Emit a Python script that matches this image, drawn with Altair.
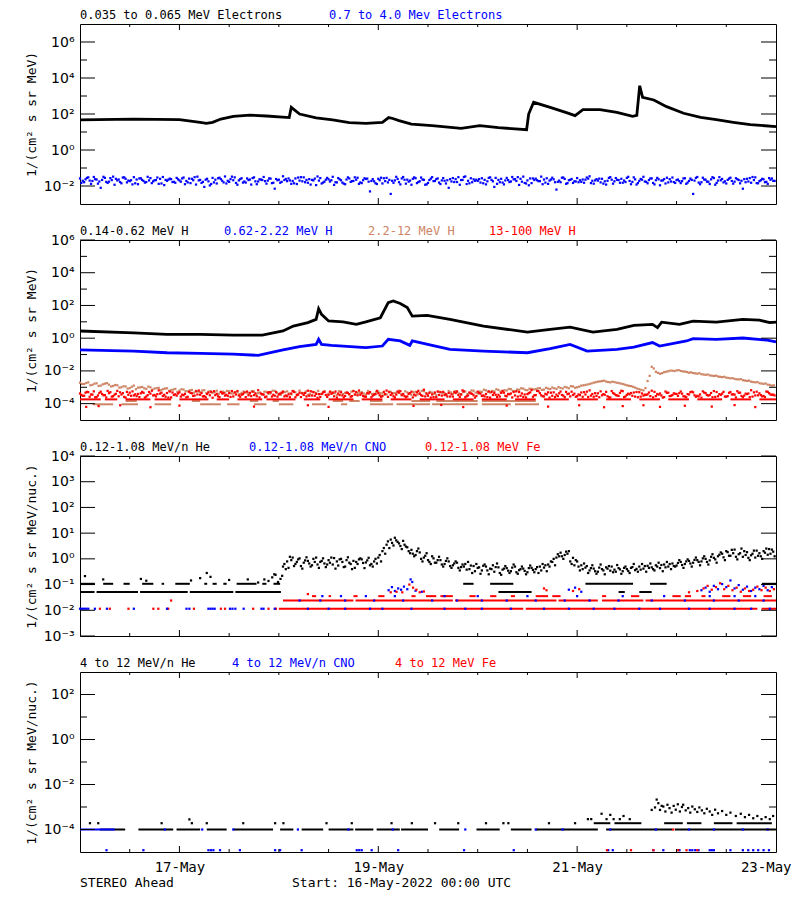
import altair as alt
import pandas as pd

# ======================= DATA (log10 of intensity) =======================
START = pd.Timestamp("2022-05-16 00:00:00")

# ---- Panel 1: electrons ----
E_LO_HOURS = [0, 13, 24, 29, 30.5, 32, 34, 37, 41, 45,
              50.5, 51, 53, 57, 61, 65, 69, 73, 74.5, 75.5,
              77, 80, 85, 92, 96.5, 101, 107.8, 108.3, 109.5, 113.5,
              117.6, 119.5, 121.4, 125.5, 129.6, 133.4, 134.4, 135.1, 135.8, 138.5,
              141.6, 145.7, 149.8, 153.6, 157.7, 161.8, 168]
E_LO_LOG = [1.67, 1.72, 1.69, 1.54, 1.48, 1.54, 1.72, 1.87, 1.94, 1.89,
            1.80, 2.37, 2.00, 1.78, 1.67, 1.52, 1.48, 1.54, 1.80, 1.75,
            1.63, 1.44, 1.35, 1.20, 1.35, 1.24, 1.13, 2.00, 2.65, 2.37,
            2.06, 1.91, 2.24, 2.24, 2.09, 1.87, 1.92, 3.57, 2.93, 2.78,
            2.41, 2.04, 1.81, 1.69, 1.54, 1.41, 1.30]
# hourly samples (A at :00, B at :20, C at :40)
E_HI_LOG_A = [
    -1.58, -1.79, -1.52, -1.72, -1.64, -2.10, -1.55, -1.76, -1.48, -1.69, -1.85, -1.60, -1.73, -1.51, -1.90, -1.66, -1.78, -1.56, -1.68, -1.88, -1.50, -1.71, -1.62, -1.82,
    -1.69, -1.53, -1.80, -1.60, -1.92, -1.66, -2.05, -1.74, -1.55, -1.86, -1.62, -1.47, -1.77, -1.68, -1.93, -1.57, -1.81, -1.64, -1.52, -1.75, -1.67, -1.87, -1.59, -2.15,
    -1.65, -1.46, -1.73, -1.88, -1.58, -1.70, -1.52, -1.82, -1.66, -1.95, -1.56, -1.76, -1.63, -1.49, -1.80, -1.68, -1.90, -1.58, -1.72, -1.54, -1.84, -1.61, -2.30, -1.74,
    -1.60, -1.86, -1.55, -2.44, -1.69, -1.79, -1.50, -1.65, -1.93, -1.57, -1.74, -1.66, -1.83, -1.51, -1.62, -1.89, -1.71, -2.10, -1.56, -1.78, -1.67, -1.47, -1.85, -1.63,
    -1.72, -1.57, -1.91, -1.52, -2.05, -1.66, -1.81, -1.55, -1.75, -1.62, -1.94, -1.48, -1.69, -1.84, -1.59, -1.73, -1.64, -1.88, -1.54, -2.20, -1.79, -1.61, -1.68, -1.83,
    -1.56, -1.77, -1.65, -1.46, -1.87, -1.70, -1.60, -1.92, -1.51, -1.74, -1.67, -1.82, -1.55, -1.90, -1.63, -1.72, -1.49, -1.85, -1.58, -1.68, -1.96, -1.62, -1.80, -1.53,
    -1.67, -1.84, -1.57, -1.72, -2.44, -1.50, -1.79, -1.65, -1.89, -1.56, -1.70, -1.61, -1.86, -1.54, -1.76, -1.67, -2.15, -1.60, -1.82, -1.52, -1.73, -1.63, -1.88, -1.58]
E_HI_LOG_B = [
    -1.83, -1.63, -1.70, -1.50, -1.87, -1.66, -1.77, -1.56, -1.93, -1.64, -1.53, -1.80, -1.68, -1.85, -1.58, -1.72, -1.49, -1.84, -1.67, -1.60, -1.95, -1.65, -1.78, -1.55,
    -1.76, -1.90, -1.59, -1.68, -1.48, -1.83, -1.65, -1.97, -1.80, -1.57, -1.71, -1.86, -1.62, -1.52, -1.69, -1.81, -1.58, -1.92, -1.74, -1.63, -1.50, -1.70, -1.84, -1.61,
    -1.82, -1.67, -1.58, -1.72, -1.89, -1.51, -1.79, -1.62, -1.69, -1.47, -1.86, -1.65, -1.75, -1.94, -1.56, -1.81, -1.64, -1.77, -1.52, -1.88, -1.68, -1.59, -1.72, -1.85,
    -1.68, -1.57, -1.80, -1.71, -1.49, -1.91, -1.65, -1.76, -1.60, -1.84, -1.53, -1.93, -1.67, -1.73, -1.58, -1.69, -1.86, -1.62, -1.78, -1.51, -1.66, -1.89, -1.57, -1.71,
    -1.62, -1.85, -1.74, -1.66, -1.55, -1.79, -1.91, -1.67, -1.50, -1.72, -1.60, -1.83, -1.96, -1.58, -1.68, -1.48, -1.81, -1.70, -1.63, -1.77, -1.54, -1.88, -1.66, -1.74,
    -1.79, -1.64, -1.53, -1.84, -1.69, -1.59, -1.87, -1.71, -1.65, -1.56, -1.82, -1.70, -1.49, -1.77, -1.92, -1.61, -1.75, -1.67, -1.83, -1.55, -1.70, -1.86, -1.62, -1.78,
    -1.64, -1.73, -1.88, -1.59, -1.70, -1.81, -1.54, -1.76, -1.63, -1.93, -1.51, -1.80, -1.66, -1.72, -1.57, -1.85, -1.62, -1.75, -1.50, -1.84, -1.68, -1.79, -1.56, -1.71]
E_HI_LOG_C = [
    -1.71, -1.55, -1.88, -1.62, -1.75, -1.49, -1.83, -1.67, -1.60, -1.78, -1.52, -1.70, -1.91, -1.64, -1.57, -1.81, -1.69, -1.74, -1.53, -1.86, -1.66, -1.59, -1.77, -1.63,
    -1.58, -1.72, -1.84, -1.51, -1.69, -1.77, -1.60, -1.89, -1.65, -1.54, -1.80, -1.71, -1.48, -1.83, -1.62, -1.75, -1.67, -1.56, -1.90, -1.64, -1.73, -1.58, -1.82, -1.68,
    -1.77, -1.61, -1.69, -1.85, -1.53, -1.74, -1.66, -1.92, -1.59, -1.70, -1.81, -1.55, -1.68, -1.79, -1.63, -1.87, -1.52, -1.73, -1.65, -1.80, -1.57, -1.76, -1.62, -1.89,
    -1.54, -1.73, -1.66, -1.82, -1.61, -1.58, -1.87, -1.70, -1.52, -1.78, -1.64, -1.91, -1.59, -1.72, -1.81, -1.56, -1.68, -1.75, -1.62, -1.93, -1.50, -1.71, -1.79, -1.65,
    -1.81, -1.66, -1.55, -1.74, -1.88, -1.60, -1.69, -1.78, -1.63, -1.51, -1.76, -1.86, -1.58, -1.67, -1.73, -1.90, -1.57, -1.64, -1.79, -1.70, -1.53, -1.84, -1.61, -1.75,
    -1.68, -1.82, -1.59, -1.71, -1.62, -1.80, -1.74, -1.55, -1.87, -1.66, -1.60, -1.78, -1.72, -1.52, -1.84, -1.65, -1.77, -1.58, -1.91, -1.63, -1.69, -1.54, -1.75, -1.83,
    -1.73, -1.58, -1.81, -1.66, -1.55, -1.90, -1.64, -1.76, -1.51, -1.83, -1.68, -1.74, -1.59, -1.87, -1.62, -1.71, -1.79, -1.56, -1.67, -1.85, -1.60, -1.77, -1.65, -1.72]

# ---- Panel 2: protons ----
H1_HOURS = [0, 13, 21, 29, 37, 44, 49, 51.5, 55, 57,
            57.6, 58.3, 60, 63.5, 66.7, 69, 72.5, 74.4, 75.6, 77.3,
            79, 80.2, 83.8, 89.3, 97.4, 108, 113.5, 118.3, 123.8, 129.6,
            133.7, 138.2, 139.4, 140.4, 144.7, 148, 153.6, 160, 164, 166.5, 168]
H1_LOG = [0.44, 0.33, 0.23, 0.23, 0.19, 0.19, 0.44, 0.74, 0.95, 1.15,
          1.80, 1.46, 1.05, 1.00, 0.85, 1.00, 1.25, 2.17, 2.27, 2.12,
          1.87, 1.35, 1.39, 1.15, 0.74, 0.37, 0.54, 0.68, 0.37, 0.54,
          0.78, 0.84, 0.64, 0.98, 0.84, 1.04, 0.98, 1.15, 1.10, 0.95, 0.98]
H2_HOURS = [0, 13, 21, 29, 37, 43, 49, 53, 57, 57.6,
            58.3, 60.7, 69, 73, 74.4, 77.3, 79.6, 80.2, 85, 89.3,
            97.4, 108, 113.5, 118.3, 122.4, 129.6, 133.7, 138.2, 139.9, 146.4,
            148, 153.6, 160, 165.6, 168]
H2_LOG = [-0.72, -0.79, -0.89, -0.93, -0.97, -1.05, -0.72, -0.52, -0.38, -0.07,
          -0.38, -0.44, -0.58, -0.48, -0.07, -0.17, -0.44, -0.17, -0.44, -0.68,
          -0.79, -0.89, -0.64, -0.38, -0.79, -0.68, -0.54, -0.27, -0.48, -0.17,
          -0.03, -0.07, 0.01, -0.11, -0.23]
H3_LOG_A = [
    -2.72, -2.80, -2.70, -2.85, -2.76, -2.90, -2.78, -2.84,
    -2.92, -2.88, -3.00, -2.95, -3.05, -2.90, -3.02, -2.98, -3.10, -3.00, -3.08, -3.04,
    -3.12, -3.06, -3.18, -3.10, -3.20, -3.14, -3.25, -3.16, -3.22, -3.30, -3.18, -3.26, -3.35, -3.21, -3.28, -3.32, -3.24, -3.38, -3.29, -3.34,
    -3.30, -3.42, -3.26, -3.36, -3.45, -3.28, -3.38, -3.22, -3.40, -3.33,
    -3.25, -3.44, -3.31, -3.20, -3.37, -3.46, -3.27, -3.35, -3.41, -3.24,
    -3.39, -3.30, -3.47, -3.26, -3.34, -3.43, -3.22, -3.36, -3.29, -3.45,
    -3.32, -3.40, -3.25, -3.38, -3.44, -3.28, -3.35, -3.21, -3.42, -3.31,
    -3.46, -3.27, -3.37, -3.24, -3.41, -3.33, -3.48, -3.29, -3.36, -3.23,
    -3.40, -3.30, -3.45, -3.26, -3.34, -3.21, -3.38, -3.28, -3.19, -3.32,
    -3.25, -3.16, -3.30, -3.20, -3.12, -3.24, -3.15, -3.08, -3.18, -3.10,
    -3.12, -3.05, -3.14, -3.08, -3.02, -3.10, -3.04, -2.98, -3.06, -2.95, -3.00, -2.90,
    -2.86, -2.80, -2.72, -2.66, -2.62, -2.65, -2.70, -2.68, -2.74, -2.80, -2.88, -2.93, -3.02, -3.12,
    -3.19, -2.62, -1.75,
    -2.05, -2.17, -2.08, -2.02, -1.99, -1.97, -2.00, -2.04, -2.11, -2.13, -2.17, -2.20, -2.24, -2.27, -2.31,
    -2.34, -2.38, -2.41, -2.45, -2.49, -2.52, -2.57, -2.61, -2.66, -2.70, -2.75, -2.79, -2.84, -2.90]
H3_LOG_B = [
    -2.80, -2.74, -2.88, -2.78, -2.92, -2.82, -2.75, -2.95,
    -2.86, -3.02, -2.94, -3.08, -2.97, -3.12, -3.01, -3.06, -2.96, -3.14, -3.05, -3.18,
    -3.08, -3.22, -3.14, -3.28, -3.12, -3.24, -3.19, -3.33, -3.26, -3.20, -3.36, -3.23, -3.30, -3.40, -3.27, -3.22, -3.37, -3.31, -3.42, -3.26,
    -3.36, -3.24, -3.44, -3.32, -3.27, -3.40, -3.21, -3.35, -3.46, -3.29,
    -3.38, -3.23, -3.43, -3.34, -3.26, -3.41, -3.30, -3.22, -3.39, -3.47,
    -3.28, -3.36, -3.24, -3.42, -3.31, -3.27, -3.45, -3.33, -3.38, -3.23,
    -3.41, -3.29, -3.35, -3.46, -3.26, -3.39, -3.32, -3.43, -3.25, -3.37,
    -3.30, -3.44, -3.22, -3.36, -3.28, -3.40, -3.27, -3.34, -3.45, -3.31,
    -3.24, -3.38, -3.29, -3.42, -3.20, -3.33, -3.26, -3.15, -3.28, -3.22,
    -3.12, -3.26, -3.18, -3.10, -3.22, -3.14, -3.06, -3.16, -3.09, -3.13,
    -3.07, -3.16, -3.03, -3.11, -3.06, -2.99, -3.08, -3.01, -2.93, -3.03, -2.96, -2.88,
    -2.83, -2.76, -2.69, -2.64, -2.60, -2.68, -2.66, -2.72, -2.77, -2.84, -2.91, -2.97, -3.08, -3.16,
    -3.05, -2.30, -1.85,
    -2.12, -2.14, -2.05, -1.98, -2.01, -1.95, -2.03, -2.07, -2.09, -2.15, -2.14, -2.22, -2.22, -2.29, -2.29,
    -2.36, -2.36, -2.43, -2.44, -2.51, -2.50, -2.59, -2.59, -2.68, -2.68, -2.77, -2.77, -2.86, -2.88]
H3_LEVEL = -4.04
H3_LEVEL_RUNS = [[3, 8], [10, 14], [18, 22], [29, 34], [35.5, 38.5], [42, 45], [48, 51.5], [56, 59.5],
                 [63, 64.5], [70, 75.6], [76.4, 84.5], [85, 96], [97, 104], [105, 110.8]]
H3_LEVEL2 = -3.84
H3_LEVEL2_RUNS = [[11, 13.7], [27, 29], [41, 43], [46.5, 48], [61, 63.5], [65, 67.5], [70, 73], [80, 84.5], [86, 96], [97, 110]]
H4_LOG_A = [
    -3.38, -3.52, -3.30, -3.45, -3.60, -3.27, -3.48, -3.36, -3.55, -3.22, -3.44, -3.63, -3.33, -3.50, -3.41, -3.28, -3.57, -3.39, -3.47, -3.19, -3.53, -3.35, -3.62, -3.43,
    -3.31, -3.49, -3.58, -3.37, -3.25, -3.46, -3.54, -3.32, -3.64, -3.40, -3.29, -3.51, -3.36, -3.56, -3.23, -3.45, -3.60, -3.34, -3.48, -3.18, -3.42, -3.57, -3.30, -3.52,
    -3.44, -3.26, -3.55, -3.38, -3.61, -3.33, -3.47, -3.21, -3.50, -3.40, -3.59, -3.28, -3.46, -3.35, -3.63, -3.31, -3.53, -3.42, -3.24, -3.49, -3.37, -3.58, -3.29, -3.45,
    -3.36, -3.54, -3.20, -3.47, -3.62, -3.33, -3.41, -3.56, -3.27, -3.50, -3.39, -3.15, -3.52, -3.44, -3.60, -3.30, -3.48, -3.35, -3.57, -3.25, -3.43, -3.61, -3.32, -3.49,
    -3.27, -3.53, -3.41, -3.63, -3.34, -3.46, -3.22, -3.55, -3.38, -3.50, -3.29, -3.59, -3.42, -3.17, -3.48, -3.36, -3.56, -3.31, -3.52, -3.45, -3.26, -3.60, -3.39, -3.47,
    -3.55, -3.32, -3.44, -3.19, -3.58, -3.37, -3.49, -3.28, -3.62, -3.40, -3.53, -3.24, -3.46, -3.35, -3.57, -3.30, -3.51, -3.43, -3.21, -3.54, -3.38, -3.60, -3.33, -3.48,
    -3.41, -3.26, -3.56, -3.44, -3.31, -3.52, -3.63, -3.36, -3.47, -3.23, -3.55, -3.39, -3.58, -3.29, -3.45, -3.34, -3.61, -3.42, -3.18, -3.50, -3.37, -3.53, -3.28, -3.46]
H4_LOG_B = [
    -3.47, -3.33, -3.58, -3.25, -3.50, -3.41, -3.62, -3.30, -3.45, -3.55, -3.36, -3.28, -3.52, -3.43, -3.60, -3.34, -3.48, -3.21, -3.56, -3.39, -3.46, -3.63, -3.32, -3.51,
    -3.57, -3.40, -3.27, -3.53, -3.44, -3.35, -3.61, -3.49, -3.24, -3.55, -3.38, -3.46, -3.59, -3.31, -3.50, -3.42, -3.26, -3.54, -3.37, -3.62, -3.45, -3.33, -3.57, -3.29,
    -3.39, -3.56, -3.43, -3.23, -3.48, -3.60, -3.35, -3.52, -3.30, -3.64, -3.41, -3.47, -3.27, -3.55, -3.38, -3.50, -3.33, -3.58, -3.44, -3.20, -3.53, -3.36, -3.61, -3.42,
    -3.49, -3.28, -3.59, -3.37, -3.45, -3.24, -3.54, -3.40, -3.62, -3.31, -3.48, -3.56, -3.34, -3.60, -3.26, -3.51, -3.43, -3.57, -3.30, -3.47, -3.19, -3.55, -3.38, -3.63,
    -3.35, -3.50, -3.60, -3.29, -3.46, -3.57, -3.33, -3.41, -3.62, -3.25, -3.52, -3.44, -3.36, -3.58, -3.22, -3.49, -3.40, -3.63, -3.31, -3.54, -3.47, -3.28, -3.56, -3.39,
    -3.44, -3.58, -3.27, -3.51, -3.36, -3.61, -3.42, -3.55, -3.23, -3.48, -3.34, -3.60, -3.39, -3.52, -3.29, -3.57, -3.45, -3.32, -3.62, -3.41, -3.50, -3.26, -3.54, -3.37,
    -3.53, -3.39, -3.61, -3.30, -3.49, -3.56, -3.25, -3.47, -3.35, -3.59, -3.42, -3.28, -3.54, -3.44, -3.62, -3.33, -3.51, -3.38, -3.57, -3.27, -3.48, -3.60, -3.36, -3.45]
H4_LOG_C = [
    -3.52, -3.28, -3.44, -3.61, -3.35, -3.49, -3.22, -3.57, -3.40, -3.31, -3.59, -3.46, -3.25, -3.54, -3.37, -3.63, -3.29, -3.50, -3.42, -3.33, -3.58, -3.26, -3.47, -3.38,
    -3.45, -3.62, -3.34, -3.51, -3.20, -3.56, -3.41, -3.29, -3.48, -3.60, -3.36, -3.53, -3.23, -3.44, -3.58, -3.32, -3.49, -3.27, -3.55, -3.39, -3.61, -3.30, -3.46, -3.57,
    -3.33, -3.50, -3.61, -3.28, -3.45, -3.37, -3.56, -3.24, -3.52, -3.42, -3.31, -3.59, -3.40, -3.26, -3.48, -3.62, -3.35, -3.54, -3.29, -3.46, -3.57, -3.38, -3.51, -3.22,
    -3.58, -3.41, -3.30, -3.55, -3.26, -3.49, -3.61, -3.36, -3.45, -3.22, -3.53, -3.39, -3.63, -3.32, -3.47, -3.28, -3.56, -3.43, -3.35, -3.59, -3.25, -3.50, -3.40, -3.54,
    -3.39, -3.56, -3.25, -3.47, -3.60, -3.34, -3.52, -3.43, -3.29, -3.57, -3.38, -3.62, -3.31, -3.49, -3.24, -3.55, -3.44, -3.33, -3.60, -3.37, -3.51, -3.42, -3.27, -3.58,
    -3.48, -3.30, -3.59, -3.41, -3.53, -3.25, -3.46, -3.62, -3.35, -3.50, -3.21, -3.56, -3.43, -3.32, -3.61, -3.38, -3.47, -3.54, -3.28, -3.45, -3.63, -3.34, -3.52, -3.40,
    -3.36, -3.55, -3.42, -3.27, -3.58, -3.44, -3.32, -3.51, -3.61, -3.29, -3.47, -3.57, -3.34, -3.43, -3.24, -3.53, -3.39, -3.60, -3.31, -3.49, -3.56, -3.26, -3.44, -3.50]
H4_LEVEL = -3.74
H4_LEVEL_RUNS = [[0, 5], [6, 9], [11, 17], [18, 22], [24, 31], [33, 36], [38, 44], [45, 52], [54, 58], [60, 66],
                 [68, 73], [75, 80], [82, 88], [90, 95], [97, 103], [105, 110], [112, 118], [120, 125], [127, 133],
                 [135, 140], [142, 147], [149, 155], [157, 162], [164, 168]]
H4_LOW_HOURS = [1.5, 4.5, 9.7, 17, 24, 42, 55, 60, 80.5, 87.2, 92.5, 103, 113, 120.5, 126.5, 131, 136, 140, 146, 152.5, 158, 163]
H4_LOW_LOG = [-4.20, -4.15, -4.10, -4.22, -4.12, -4.18, -4.10, -4.20, -4.14, -4.08, -4.21,
              -4.12, -4.18, -4.10, -4.22, -4.15, -4.10, -4.20, -4.13, -4.18, -4.09, -4.21]

# ---- Panel 3: 0.12-1.08 MeV/n heavy ions ----
HE_LEVEL05, HE_LEVEL10 = -1.29, -0.97
HE_LEVEL05_RUNS = [[0, 3.5], [4, 14], [14.5, 26], [26.5, 37], [37.5, 48.5], [101, 109], [130, 131.5], [135, 138]]
HE_LEVEL10_RUNS = [[0, 3.6], [5.6, 8], [10.5, 12], [15, 17.7], [19.7, 20.3], [23, 26.5], [30, 30.7], [32, 33],
                   [34.6, 35.4], [37.8, 42.6], [44, 45], [46.7, 48.3], [92.5, 95], [99, 104.6], [122, 133.5],
                   [137.6, 141.6], [164.6, 168]]
HE_EARLY_HOURS = [1.2, 5.6, 14.7, 16, 26.8, 29, 30.6, 31.5, 36, 40.5, 43, 44.5, 45.5, 46.4, 46.9, 47.2, 47.8, 48.4, 48.8]
HE_EARLY_LOG = [-0.67, -0.80, -0.78, -0.85, -0.84, -0.75, -0.55, -0.70, -0.82, -0.80, -0.92, -0.80, -0.86, -0.72,
                -0.60, -0.62, -0.90, -0.78, -0.66]
HE_CLOUD_START = 49
HE_LOG_A = [
    -0.30, -0.10, -0.05, -0.20, 0.02, -0.15, -0.08, -0.25, 0.05, -0.12, -0.18,
    -0.05, -0.22, -0.10, 0.00, -0.30, -0.15, -0.08, -0.20, -0.02, -0.14, -0.25, -0.10,
    0.05, 0.30, 0.55, 0.75, 0.82, 0.60, 0.70, 0.45,
    0.35, 0.15, 0.25, 0.05, -0.05, 0.10, -0.15, -0.05, -0.20, -0.10,
    -0.25, -0.15, -0.32, -0.20, -0.40, -0.28, -0.35, -0.45, -0.30, -0.38, -0.50, -0.33, -0.42, -0.36, -0.48, -0.30, -0.44, -0.38, -0.52, -0.35,
    -0.40, -0.30, -0.34, -0.22, -0.12, 0.05, 0.24, 0.15, 0.30, 0.04,
    -0.10, -0.25, -0.34, -0.45, -0.38, -0.50, -0.40, -0.33, -0.46, -0.42, -0.36, -0.48, -0.40, -0.35, -0.44,
    -0.30, -0.38, -0.27, -0.33, -0.25, -0.36, -0.22, -0.30, -0.18, -0.26, -0.12, -0.20, -0.08, -0.15, -0.05,
    -0.10, 0.00, -0.06, 0.04, 0.10, 0.20, 0.30, 0.12, 0.36, 0.18, 0.08, 0.26, 0.14, 0.05, 0.22, 0.30, 0.16, 0.36]
HE_LOG_B = [
    -0.20, -0.35, 0.05, -0.12, -0.28, -0.06, -0.18, 0.00, -0.22, -0.08, -0.32,
    -0.15, 0.03, -0.26, -0.12, -0.05, -0.20, -0.35, -0.02, -0.16, -0.06, -0.20, 0.00,
    0.15, 0.42, 0.68, 0.62, 0.72, 0.50, 0.55, 0.30,
    0.20, 0.30, 0.00, 0.12, -0.12, 0.02, -0.05, -0.22, -0.08, -0.28,
    -0.18, -0.35, -0.22, -0.42, -0.26, -0.48, -0.33, -0.27, -0.45, -0.40, -0.32, -0.55, -0.38, -0.46, -0.34, -0.52, -0.40, -0.47, -0.36, -0.43,
    -0.32, -0.45, -0.25, -0.30, 0.00, 0.18, 0.10, 0.28, -0.10, -0.25,
    -0.30, -0.40, -0.28, -0.36, -0.48, -0.34, -0.45, -0.38, -0.30, -0.50, -0.41, -0.35, -0.47, -0.32, -0.39,
    -0.42, -0.28, -0.35, -0.40, -0.30, -0.24, -0.33, -0.20, -0.28, -0.16, -0.24, -0.10, -0.18, -0.04, -0.12,
    0.02, -0.12, 0.08, -0.02, 0.16, 0.06, 0.26, 0.35, 0.08, 0.22, 0.30, 0.04, 0.20, 0.32, 0.10, 0.24, 0.38, 0.28]
HE_LOG_C = [
    -0.40, 0.08, -0.28, -0.02, -0.38, 0.06, -0.30, -0.12, -0.35, 0.02, -0.22,
    0.05, -0.38, -0.02, -0.32, 0.06, -0.40, -0.12, 0.02, -0.36, 0.04, -0.30, -0.18,
    -0.10, 0.20, 0.42, 0.52, 0.66, 0.38, 0.48, 0.22,
    0.10, 0.40, -0.10, 0.22, -0.20, -0.15, 0.08, -0.30, 0.02, -0.35,
    -0.10, -0.45, -0.30, -0.12, -0.55, -0.20, -0.58, -0.22, -0.60, -0.25, -0.18, -0.62, -0.28, -0.55, -0.22, -0.58, -0.30, -0.60, -0.26, -0.52,
    -0.55, -0.20, -0.48, -0.10, -0.25, 0.10, 0.00, 0.20, -0.20, -0.05,
    -0.45, -0.18, -0.55, -0.25, -0.58, -0.22, -0.60, -0.28, -0.52, -0.24, -0.58, -0.30, -0.55, -0.20, -0.50,
    -0.20, -0.50, -0.18, -0.45, -0.15, -0.48, -0.12, -0.40, -0.30, -0.05, -0.35, -0.02, -0.30, 0.05, -0.25,
    0.10, -0.22, 0.18, -0.15, 0.25, -0.05, 0.12, 0.22, -0.02, 0.40, 0.15, -0.05, 0.32, 0.12, 0.00, 0.40, 0.20, 0.10]
ION_L1, ION_L2, ION_L3 = -1.94, -1.62, -1.45
FE_L1_RUNS = [[48, 107], [107.6, 163.5], [164.5, 168]]
FE_L2_RUNS = [[49, 66], [66.5, 90], [90.5, 115], [115.5, 125], [126, 136], [136.5, 168]]
FE_L3_RUNS = [[56, 57], [60, 60.6], [66, 67], [72, 73.5], [80, 81], [83.5, 86], [87, 90], [94, 95.5], [99, 100.5],
              [104, 105], [110, 113], [114, 116], [126, 127], [133, 135], [143, 145], [146, 147.5], [150, 151],
              [155, 157], [160, 162], [165, 167]]
FE_L1_EARLY_HOURS = [4.8, 7.2, 11.7, 17.7, 18.9, 21.3, 27.5, 34, 35, 41.8, 45.5, 47.3]
FE_EXTRA = [(22, -1.62), (55, -1.37)]
CNO_L1_HOURS = [0, 0.5, 1, 1.5, 2, 3.6, 6.5, 13, 21, 25.7, 26.4, 31, 31.5, 32, 32.5, 36.2, 36.8, 37.5, 39.5,
                43.8, 44.3, 47, 55, 60, 64, 70, 73, 80, 88, 93, 97, 104, 112, 118, 124, 129, 135, 140, 147,
                152, 158, 162, 166.5]
CNO_L2_HOURS = [53, 58, 64, 71, 78, 85, 91, 97, 103, 110, 117, 123, 130, 138, 146, 153, 159, 165]
CNO_L3_HOURS = [58.5, 63, 69, 76, 88, 96, 108, 120, 131, 141, 152, 158, 163]
FE_BURST = [(75, -1.30), (76.4, -1.28), (77.8, -1.30), (79.5, -1.00), (80.4, -1.12), (81.2, -1.20), (82, -1.30),
            (83, -1.27), (112, -1.15), (112.6, -1.22), (119, -1.25), (120.5, -1.18),
            (147, -1.30), (149, -1.25), (150.5, -1.15), (151.5, -1.05), (152.5, -1.20), (153.5, -1.10),
            (154.5, -0.95), (155.5, -1.18), (156.5, -1.05), (157.5, -1.22), (158.5, -1.12), (159.5, -1.28),
            (160.5, -1.15), (161.5, -1.25), (162.5, -1.20), (163.5, -1.08), (164.5, -1.22), (165.5, -1.12),
            (166.5, -1.25), (167.5, -1.18)]
CNO_BURST = [(74.5, -1.22), (75.3, -1.10), (76, -1.25), (76.8, -1.15), (77.5, -1.20), (78.2, -1.08), (79, -1.18),
             (79.8, -0.80), (80.2, -0.90), (81, -1.24), (82.5, -1.28), (118, -1.20), (119.5, -1.12), (121, -1.28),
             (150, -1.22), (151, -1.12), (152, -1.28), (153, -1.05), (154, -1.18), (155, -0.98), (156, -1.10),
             (157, -0.84), (158, -1.15), (159, -1.02), (160, -1.20), (161, -1.08), (162, -1.25), (163, -1.12),
             (164, -1.18), (165, -1.05), (166, -1.22), (167, -1.10)]

# ---- Panel 4: 4-12 MeV/n heavy ions ----
P4_L1, P4_L2, P4_LOW = -4.0, -3.72, -4.92
HE4_L1_RUNS = [[4.8, 10.9], [14.1, 22.5], [23.3, 29], [30.6, 35.4], [37, 46.6], [48.3, 51.5], [53.5, 58.7], [60, 66],
               [66.4, 70.8], [71.6, 77.2], [77.5, 84], [86.7, 91.5], [95.7, 101.3], [104, 109], [110, 125],
               [127, 143], [143.6, 168]]
HE4_L2_RUNS = [[124, 128], [129, 135.5], [141, 145.5], [146.5, 150], [153, 157.5], [158.5, 167]]
HE4_L2_HOURS = [2.4, 4.4, 19.7, 27, 30.6, 39.4, 47.1, 49.1, 59.5, 65.6, 75.2, 80.1, 85.7, 91.3, 98, 102.2, 103.4,
                113.2, 119.5]
HE4_PTS = [(26.4, -3.55), (122.6, -3.54), (123.4, -3.54), (125.9, -3.30), (127.1, -3.54), (128, -3.35), (128.8, -3.54),
           (130.3, -3.54), (131.2, -3.40), (132.7, -3.54), (138, -3.13), (138.8, -3.02), (139.2, -2.67), (139.6, -2.83),
           (140, -3.13), (140.4, -2.95), (140.8, -2.98), (141.3, -3.20), (141.8, -2.90), (142.3, -3.05), (142.8, -3.25),
           (143.3, -2.95), (143.8, -3.12), (144.3, -2.88), (144.8, -3.20), (145.3, -3.00), (145.6, -2.90), (146.2, -3.15),
           (146.8, -3.05), (147.3, -3.25), (147.8, -2.98), (148.4, -3.10), (149, -3.22), (149.5, -3.02), (150.1, -3.15),
           (150.7, -3.28), (151.3, -3.08), (152, -3.20), (152.6, -3.35), (153.3, -3.12), (154, -3.28), (155, -3.18),
           (156, -3.35), (157, -3.25), (158.3, -3.40), (159.5, -3.30), (160.5, -3.45), (161.5, -3.35), (162.5, -3.50),
           (163.5, -3.40), (164.5, -3.54), (165.5, -3.45), (166.5, -3.54), (167.3, -3.40)]
CNO4_L1_RUNS = [[0, 8.4]]
CNO4_L1_HOURS = [20.5, 29.5, 37, 52.6, 64.8, 75.5, 93, 110, 116.5, 128, 139, 147, 153, 160, 166]
CNO4_LOW_HOURS = [6.4, 15.3, 31, 31.6, 32.2, 33.8, 38.6, 47.1, 48.3, 53.5, 66.8, 67.4, 68, 70.4, 76.8, 92.7, 104.7,
                  127.5, 128.6, 138.4, 140.8, 144.7, 147.2, 147.8, 148.5, 149.3, 152, 152.5, 153, 157, 160, 161.3,
                  162.5, 163.7, 165, 166.3]
FE4_L1_HOURS = [143.2]
FE4_LOW_HOURS = [127.2, 133, 138.4, 144.4, 146.4, 149]

# ---- texts ----
P1_TITLES = ["0.035 to 0.065 MeV Electrons", "0.7 to 4.0 Mev Electrons"]
P2_TITLES = ["0.14-0.62 MeV H", "0.62-2.22 MeV H", "2.2-12 MeV H", "13-100 MeV H"]
P3_TITLES = ["0.12-1.08 MeV/n He", "0.12-1.08 MeV/n CNO", "0.12-1.08 MeV Fe"]
P4_TITLES = ["4 to 12 MeV/n He", "4 to 12 MeV/n CNO", "4 to 12 MeV Fe"]
YTITLE_A = "1/(cm² s sr MeV)"
YTITLE_B = "1/(cm² s sr MeV/nuc.)"
X_LABEL_DAYS = [17, 19, 21, 23]
FOOT_LEFT = "STEREO Ahead"
FOOT_MID = "Start: 16-May-2022 00:00 UTC"

# ======================= STYLE / HELPERS =======================
W, H = 696, 180
BLACK, BLUE, BROWN, RED = "#000000", "#0000ff", "#cd8566", "#ff0000"
MONO = "DejaVu Sans Mono"
SANS = "DejaVu Sans"
SQ = 5
X_MAJOR_HOURS = [24, 72, 120]
X_MINOR_HOURS = [12, 36, 48, 60, 84, 96, 108, 132, 144, 156]
SUP = {"-": "⁻", "0": "⁰", "1": "¹", "2": "²", "3": "³", "4": "⁴",
       "5": "⁵", "6": "⁶", "7": "⁷", "8": "⁸", "9": "⁹"}


def at(h):
    return START + pd.Timedelta(minutes=round(h * 60))


def curve(hours, logs):
    return pd.DataFrame({"t": [at(h) for h in hours], "v": [10.0 ** l for l in logs]})


def hourly(logs, start=0.0):
    rows = [(start + i, l) for i, l in enumerate(logs) if l is not None]
    return curve([r[0] for r in rows], [r[1] for r in rows])


def pairs(pts):
    return curve([p[0] for p in pts], [p[1] for p in pts])


def level(hours, lvl):
    return curve(hours, [lvl for _ in hours])


def runs(spans, lvl):
    return pd.DataFrame({"t": [at(a) for a, b in spans],
                         "t2": [at(b) for a, b in spans],
                         "v": [10.0 ** lvl for _ in spans]})


XS = alt.Scale(domain=[alt.DateTime(year=2022, month=5, date=16),
                       alt.DateTime(year=2022, month=5, date=23)], nice=False)


def make_x(show_axis):
    if show_axis:
        ax = alt.Axis(values=[alt.DateTime(year=2022, month=5, date=d) for d in X_LABEL_DAYS],
                      format="%d-%b", ticks=False, domain=False, grid=False,
                      labelFont=MONO, labelFontSize=14, labelColor="black", labelPadding=8,
                      labelOverlap=False, labelFlush=True, labelFlushOffset=15, title=None)
    else:
        ax = None
    return alt.X("t:T", scale=XS, axis=ax)


def make_y(lo, hi, major, title):
    conds = []
    for e in major:
        v = 10.0 ** e
        lab = "10" + "".join(SUP[c] for c in str(e))
        conds.append(f"abs(datum.value - {v!r}) < {v * 1e-3!r} ? '{lab}'")
    expr = " : ".join(conds) + " : ''"
    ax = alt.Axis(values=[10.0 ** e for e in major], labelExpr=expr, ticks=False, domain=False,
                  grid=False, labelFont=SANS, labelFontSize=14, labelColor="black", labelPadding=6,
                  labelOverlap=False, title=title, titleFont=MONO, titleFontSize=13,
                  titleFontWeight="normal", titleColor="black", titlePadding=5)
    return alt.Y("v:Q", scale=alt.Scale(type="log", domain=[10.0 ** lo, 10.0 ** hi], nice=False), axis=ax)


def sq(df, color, X, Y):
    return alt.Chart(df).mark_square(size=SQ, color=color, opacity=1).encode(x=X, y=Y)


def ln(df, color, X, Y):
    return alt.Chart(df).mark_line(color=color, strokeWidth=2.8).encode(x=X, y=Y)


def rl(df, color, X, Y):
    return alt.Chart(df).mark_rule(color=color, strokeWidth=2).encode(x=X, x2=alt.X2("t2:T"), y=Y)


def tick_layers(X, Y, major, minor):
    out = []
    for hours, L in ((X_MAJOR_HOURS, 6), (X_MINOR_HOURS, 3)):
        base = alt.Chart(pd.DataFrame({"t": [at(h) for h in hours]})).mark_rule(color="black", strokeWidth=1)
        out.append(base.encode(x=X, y=alt.value(H), y2=alt.value(H - L)))
        out.append(base.encode(x=X, y=alt.value(0), y2=alt.value(L)))
    for exps, L in ((major, 15), (minor, 7)):
        if not exps:
            continue
        base = alt.Chart(pd.DataFrame({"v": [10.0 ** e for e in exps]})).mark_rule(color="black", strokeWidth=1)
        out.append(base.encode(y=Y, x=alt.value(0), x2=alt.value(L)))
        out.append(base.encode(y=Y, x=alt.value(W), x2=alt.value(W - L)))
    return out


def text_layer(txt, color, xpx, ypx, size=12):
    return alt.Chart(pd.DataFrame({"label": [txt]})).mark_text(
        align="left", baseline="alphabetic", font=MONO, fontSize=size, color=color
    ).encode(text="label:N", x=alt.value(xpx), y=alt.value(ypx))


def titles(texts, colors, offsets):
    return [text_layer(t, c, o, -5) for t, c, o in zip(texts, colors, offsets)]


# ======================= PANELS =======================
# Panel 1
X1 = make_x(False)
Y1 = make_y(-3, 7, [-2, 0, 2, 4, 6], YTITLE_A)
p1 = alt.layer(
    ln(curve(E_LO_HOURS, E_LO_LOG), BLACK, X1, Y1),
    sq(hourly(E_HI_LOG_A), BLUE, X1, Y1),
    sq(hourly(E_HI_LOG_B, 1 / 3), BLUE, X1, Y1),
    sq(hourly(E_HI_LOG_C, 2 / 3), BLUE, X1, Y1),
    *tick_layers(X1, Y1, [-2, 0, 2, 4, 6], [-1, 1, 3, 5]),
    *titles(P1_TITLES, [BLACK, BLUE], [0, 249]),
).properties(width=W, height=H)

# Panel 2
X2 = make_x(False)
Y2 = make_y(-5, 6, [-4, -2, 0, 2, 4, 6], YTITLE_A)
p2 = alt.layer(
    ln(curve(H1_HOURS, H1_LOG), BLACK, X2, Y2),
    ln(curve(H2_HOURS, H2_LOG), BLUE, X2, Y2),
    rl(runs(H3_LEVEL_RUNS, H3_LEVEL), BROWN, X2, Y2),
    rl(runs(H3_LEVEL2_RUNS, H3_LEVEL2), BROWN, X2, Y2),
    sq(hourly(H3_LOG_A), BROWN, X2, Y2),
    sq(hourly(H3_LOG_B, 0.5), BROWN, X2, Y2),
    rl(runs(H4_LEVEL_RUNS, H4_LEVEL), RED, X2, Y2),
    sq(curve(H4_LOW_HOURS, H4_LOW_LOG), RED, X2, Y2),
    sq(hourly(H4_LOG_A), RED, X2, Y2),
    sq(hourly(H4_LOG_B, 1 / 3), RED, X2, Y2),
    sq(hourly(H4_LOG_C, 2 / 3), RED, X2, Y2),
    *tick_layers(X2, Y2, [-4, -2, 0, 2, 4, 6], [-3, -1, 1, 3, 5]),
    *titles(P2_TITLES, [BLACK, BLUE, BROWN, RED], [0, 144, 288, 409]),
).properties(width=W, height=H)

# Panel 3
X3 = make_x(False)
Y3 = make_y(-3, 4, [-3, -2, -1, 0, 1, 2, 3, 4], YTITLE_B)
p3 = alt.layer(
    rl(runs(HE_LEVEL05_RUNS, HE_LEVEL05), BLACK, X3, Y3),
    rl(runs(HE_LEVEL10_RUNS, HE_LEVEL10), BLACK, X3, Y3),
    sq(curve(HE_EARLY_HOURS, HE_EARLY_LOG), BLACK, X3, Y3),
    sq(hourly(HE_LOG_A, HE_CLOUD_START), BLACK, X3, Y3),
    sq(hourly(HE_LOG_B, HE_CLOUD_START + 1 / 3), BLACK, X3, Y3),
    sq(hourly(HE_LOG_C, HE_CLOUD_START + 2 / 3), BLACK, X3, Y3),
    rl(runs(FE_L1_RUNS, ION_L1), RED, X3, Y3),
    rl(runs(FE_L2_RUNS, ION_L2), RED, X3, Y3),
    rl(runs(FE_L3_RUNS, ION_L3), RED, X3, Y3),
    sq(level(FE_L1_EARLY_HOURS, ION_L1), RED, X3, Y3),
    sq(pairs(FE_EXTRA), RED, X3, Y3),
    sq(level(CNO_L1_HOURS, ION_L1), BLUE, X3, Y3),
    sq(level(CNO_L2_HOURS, ION_L2), BLUE, X3, Y3),
    sq(level(CNO_L3_HOURS, ION_L3), BLUE, X3, Y3),
    sq(pairs(CNO_BURST), BLUE, X3, Y3),
    sq(pairs(FE_BURST), RED, X3, Y3),
    *tick_layers(X3, Y3, [-3, -2, -1, 0, 1, 2, 3, 4], []),
    *titles(P3_TITLES, [BLACK, BLUE, RED], [0, 169, 345]),
).properties(width=W, height=H)

# Panel 4
X4 = make_x(True)
Y4 = make_y(-5, 3, [-4, -2, 0, 2], YTITLE_B)
p4 = alt.layer(
    rl(runs(HE4_L1_RUNS, P4_L1), BLACK, X4, Y4),
    rl(runs(HE4_L2_RUNS, P4_L2), BLACK, X4, Y4),
    sq(level(HE4_L2_HOURS, P4_L2), BLACK, X4, Y4),
    sq(pairs(HE4_PTS), BLACK, X4, Y4),
    rl(runs(CNO4_L1_RUNS, P4_L1), BLUE, X4, Y4),
    sq(level(CNO4_L1_HOURS, P4_L1), BLUE, X4, Y4),
    sq(level(CNO4_LOW_HOURS, P4_LOW), BLUE, X4, Y4),
    sq(level(FE4_L1_HOURS, P4_L1), RED, X4, Y4),
    sq(level(FE4_LOW_HOURS, P4_LOW), RED, X4, Y4),
    *tick_layers(X4, Y4, [-4, -2, 0, 2], [-3, -1, 1]),
    *titles(P4_TITLES, [BLACK, BLUE, RED], [0, 152, 315]),
    text_layer(FOOT_LEFT, BLACK, 0, H + 35, 13),
    text_layer(FOOT_MID, BLACK, 212, H + 35, 13),
).properties(width=W, height=H)

chart = alt.vconcat(p1, p2, p3, p4, spacing=36, bounds="flush").resolve_scale(
    y="independent", x="shared"
).properties(
    padding={"left": 16, "top": 0, "right": 0, "bottom": 0},
    background="white",
).configure_view(stroke="black", strokeWidth=1)

chart.save("out.html", embed_options={"renderer": "svg", "actions": False})
